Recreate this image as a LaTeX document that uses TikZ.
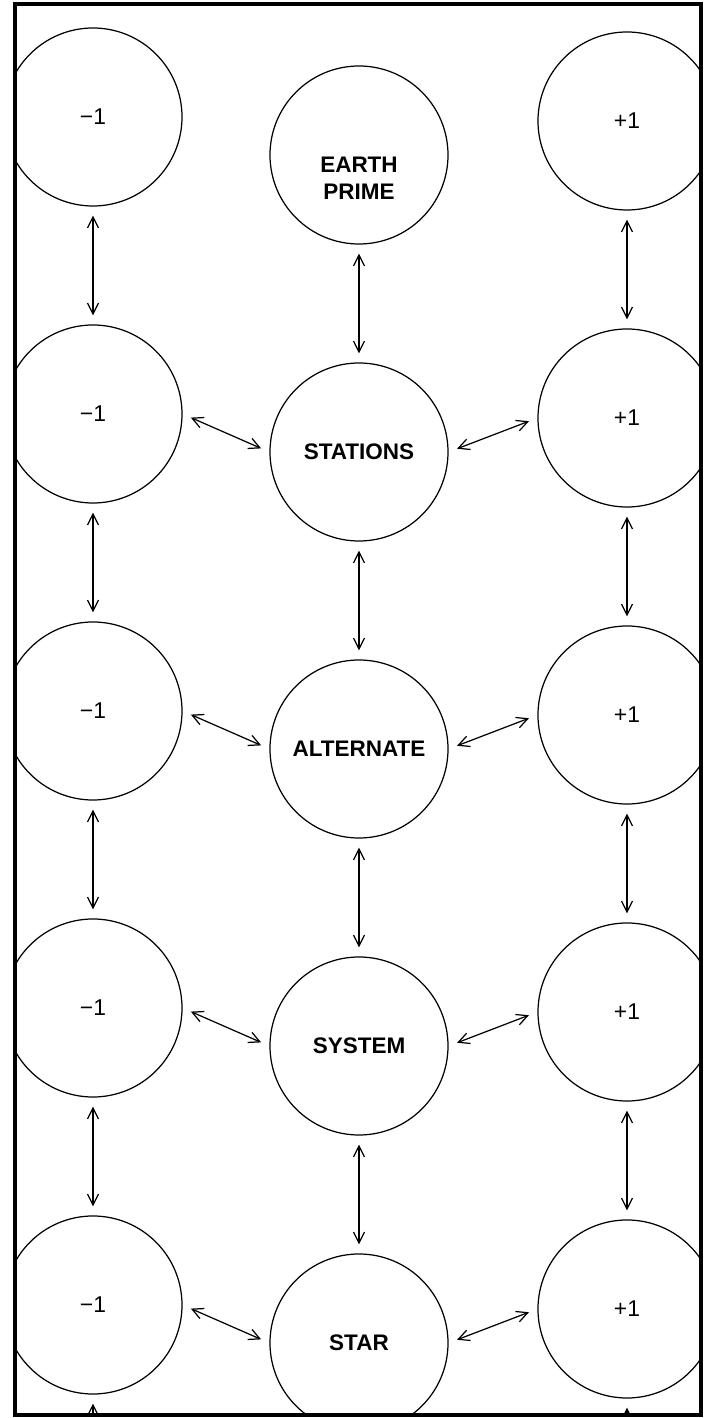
\documentclass[tikz,border=0pt]{standalone}
\usepackage{fontspec}
\setmainfont{Liberation Sans}
\usepackage{tikz}
\usetikzlibrary{calc,arrows.meta}

\tikzset{
	world/.style={circle, draw, line width=0.7pt, minimum size=3.56cm, inner sep=0pt},
	side/.style={world, font=\fontsize{13}{15}\selectfont},
	main/.style={world, font=\fontsize{12.8}{15.6}\selectfont\bfseries, align=center},
	link/.style={<->, line width=0.7pt, shorten <=0.18cm, shorten >=0.18cm},
}

\begin{document}
\begin{tikzpicture}[>={Straight Barb[length=2.2mm,width=2.2mm]}]
		
		% Page size
		\useasboundingbox (0,0) rectangle (14.3,28.36);
		
		\begin{scope}
			% everything stays inside the frame
			\clip (0.30,0.06) rectangle (14.02,28.28);
			
			% =========================================================
			% Row 1
			% =========================================================
			\node[side] (m1) at (1.86,26.02) {−1};
			\node[main] (c1) at (7.18,25.26) {};
			\node[font=\fontsize{12.8}{15.6}\selectfont\bfseries, align=center] (c1text)
			at ($(c1.center)+(0,-0.46)$) {EARTH\\PRIME};
			\node[side] (p1) at (12.54,25.94) {+1};
			
			% =========================================================
			% Row 2
			% =========================================================
			\node[side] (m2) at (1.86,20.08) {−1};
			\node[main] (c2) at (7.18,19.32) {STATIONS};
			\node[side] (p2) at (12.54,20.00) {+1};
			
			% =========================================================
			% Row 3
			% =========================================================
			\node[side] (m3) at (1.86,14.14) {−1};
			\node[main] (c3) at (7.18,13.38) {ALTERNATE};
			\node[side] (p3) at (12.54,14.06) {+1};
			
			% =========================================================
			% Row 4
			% =========================================================
			\node[side] (m4) at (1.86,8.20) {−1};
			\node[main] (c4) at (7.18,7.44) {SYSTEM};
			\node[side] (p4) at (12.54,8.12) {+1};
			
			% =========================================================
			% Row 5 (cut by the frame)
			% =========================================================
			\node[side] (m5) at (1.86,2.26) {−1};
			\node[main] (c5) at (7.18,1.50) {STAR};
			\node[side] (p5) at (12.54,2.18) {+1};
			
			% next row, off the page
			\coordinate (m6) at (1.86,-3.68);
			\coordinate (p6) at (12.54,-3.76);
			
			% Vertical links
			\draw[link] (m1) -- (m2);
			\draw[link] (m2) -- (m3);
			\draw[link] (m3) -- (m4);
			\draw[link] (m4) -- (m5);
			\draw[link] (m5) -- (m6);
			
			\draw[link] (c1) -- (c2);
			\draw[link] (c2) -- (c3);
			\draw[link] (c3) -- (c4);
			\draw[link] (c4) -- (c5);
			
			\draw[link] (p1) -- (p2);
			\draw[link] (p2) -- (p3);
			\draw[link] (p3) -- (p4);
			\draw[link] (p4) -- (p5);
			\draw[link] (p5) -- (p6);
			
			% Side links
			\draw[link] (m2.east) -- (c2.west);
			\draw[link] (c2.east) -- (p2.west);
			\draw[link] (m3.east) -- (c3.west);
			\draw[link] (c3.east) -- (p3.west);
			\draw[link] (m4.east) -- (c4.west);
			\draw[link] (c4.east) -- (p4.west);
			\draw[link] (m5.east) -- (c5.west);
			\draw[link] (c5.east) -- (p5.west);
		\end{scope}
		
		% Frame
		\draw[line width=2.2pt] (0.30,0.06) rectangle (14.02,28.28);
		
	\end{tikzpicture}
\end{document}
